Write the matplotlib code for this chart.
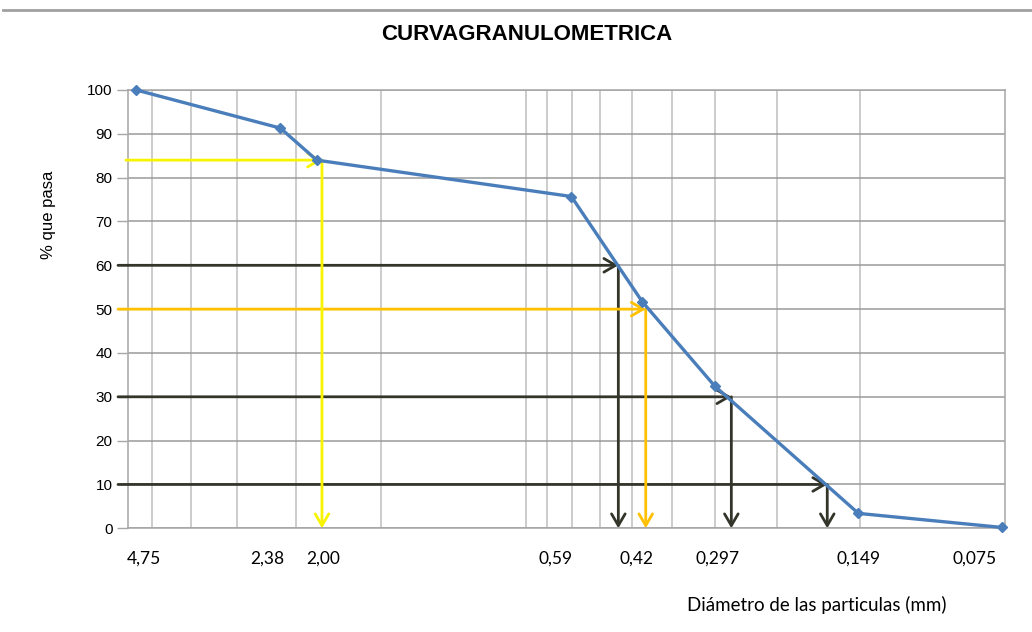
import matplotlib
matplotlib.use("Agg")
import matplotlib.pyplot as plt
from matplotlib.lines import Line2D
from matplotlib.transforms import offset_copy

# ---- data ----
sizes = [4.75, 2.38, 2.00, 0.59, 0.42, 0.297, 0.149, 0.075]
pasa = [100, 91.3, 84.0, 75.7, 51.7, 32.5, 3.4, 0.2]
size_labels = ['4,75', '2,38', '2,00', '0,59', '0,42', '0,297', '0,149', '0,075']

# reference readings (percent level -> diameter)
dark_levels = [60, 30, 10]
dark_diams = [0.471, 0.274, 0.173]
yellow_level = 84
yellow_diam = 1.95
orange_level = 50
orange_diam = 0.413

# vertical grid positions (log axis)
grid_x = [4.40, 3.66, 2.93, 2.21, 1.47, 0.734, 0.662, 0.587, 0.514, 0.442,
          0.365, 0.296, 0.2205, 0.148]
y_ticks = list(range(0, 101, 10))

# ---- style ----
label_dx_px = [8, -13, 6, -16, -6, 3, 0, -27]
line_blue = '#4A7EBB'
dark = '#34352a'
yellow = '#F8F400'
orange = '#FFC000'

fig = plt.figure(figsize=(10.32, 6.32), dpi=100)
fig.patch.set_facecolor('white')
ax = fig.add_axes([0.1237, 0.1641, 0.8501, 0.6935])

ax.set_xscale('log')
ax.set_xlim(4.95, 0.0738)
ax.set_ylim(0, 100)

# grids
for gx in grid_x:
    ax.axvline(gx, color='#c4c4c4', lw=1.2, zorder=1)
for gy in y_ticks:
    ax.axhline(gy, color='#9a9a9a', lw=1.1, zorder=1)

for s in ['top', 'right', 'left', 'bottom']:
    ax.spines[s].set_color('#a6a6a6')
    ax.spines[s].set_linewidth(1.1)

ax.set_yticks(y_ticks)
ax.set_yticklabels([str(v) for v in y_ticks], family='Liberation Sans', fontsize=11)
ax.tick_params(axis='y', direction='out', length=8, color='#a6a6a6', width=1, pad=3)
ax.minorticks_off()
ax.set_xticks(sizes)
ax.set_xticklabels(size_labels, family='Lato', fontsize=12.5)
ax.tick_params(axis='x', length=0, pad=16, which='both')
ax.xaxis.set_minor_locator(matplotlib.ticker.NullLocator())
for lbl, dx in zip(ax.get_xticklabels(), label_dx_px):
    lbl.set_transform(offset_copy(lbl.get_transform(), fig=fig, x=dx, y=0, units='dots'))

# curve
ax.plot(sizes, pasa, color=line_blue, lw=2.4, marker='D', ms=5,
        mfc=line_blue, mec=line_blue, zorder=5, clip_on=False)

ytrans = ax.get_yaxis_transform()

def guide(level, diam, color, x0):
    ax.annotate('', xy=(diam, level), xycoords='data',
                xytext=(x0, level), textcoords=ytrans,
                arrowprops=dict(arrowstyle='->,head_length=0.6,head_width=0.35',
                                color=color, lw=2.0, shrinkA=0, shrinkB=0,
                                mutation_scale=14),
                annotation_clip=False, zorder=4)
    ax.annotate('', xy=(diam, 0), xycoords='data',
                xytext=(diam, level), textcoords='data',
                arrowprops=dict(arrowstyle='->,head_length=0.6,head_width=0.35',
                                color=color, lw=2.0, shrinkA=0, shrinkB=0,
                                mutation_scale=14),
                annotation_clip=False, zorder=4)

for lv, dm in zip(dark_levels, dark_diams):
    guide(lv, dm, dark, -0.011)
guide(orange_level, orange_diam, orange, -0.011)
guide(yellow_level, yellow_diam, yellow, -0.002)

# texts
fig.text(527 / 1032, 1 - 34 / 632, 'CURVAGRANULOMETRICA', ha='center', va='center',
         family='Liberation Sans', fontweight='bold', fontsize=16)
fig.text(48 / 1032, 1 - 215 / 632, '% que pasa', rotation=90, ha='center', va='center',
         family='Liberation Sans', fontsize=12)
fig.text(817 / 1032, 1 - 605 / 632, 'Diámetro de las particulas (mm)', ha='center',
         va='center', family='Lato', fontsize=13.5)

# page border line at top
fig.add_artist(Line2D([0.003, 1.0], [1 - 10 / 632, 1 - 10 / 632], color='#a0a0a0',
                      lw=2, transform=fig.transFigure))

fig.savefig('out.png', dpi=100, facecolor='white')
